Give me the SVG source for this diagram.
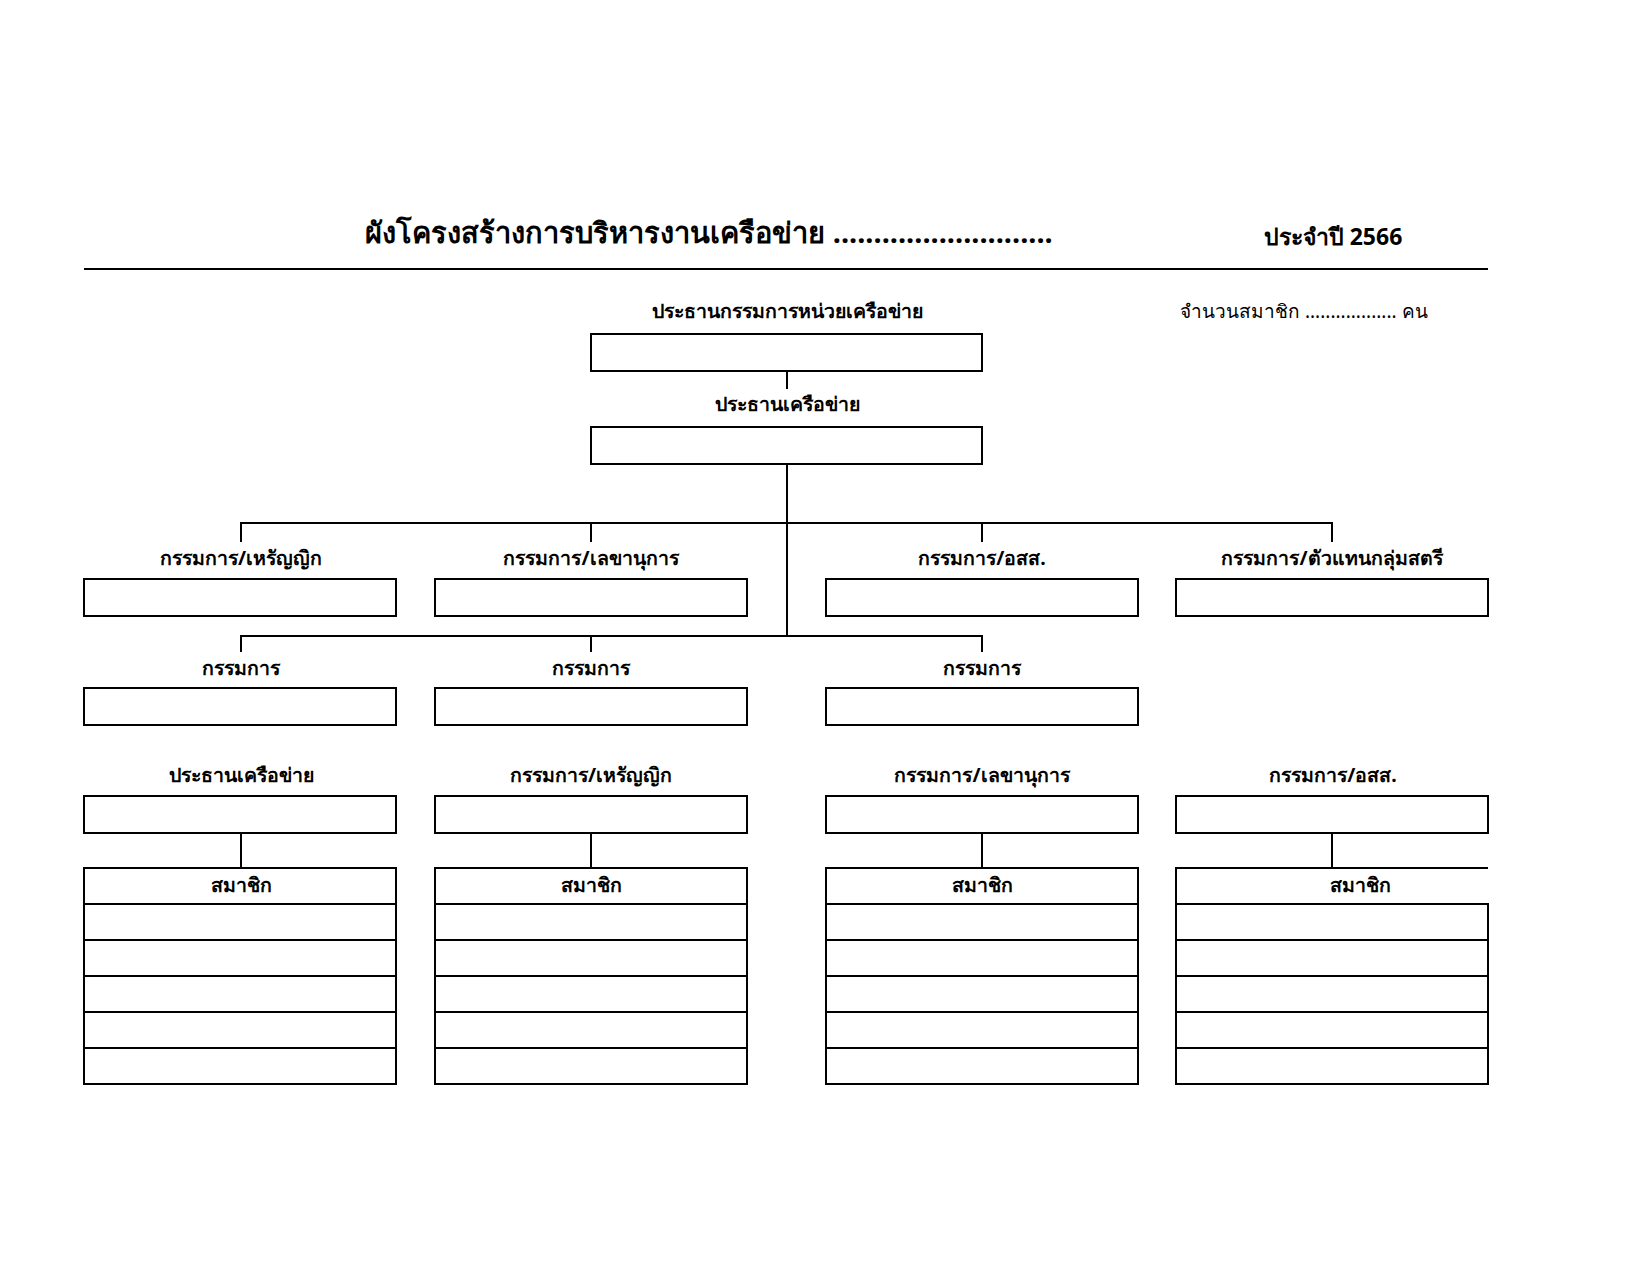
<svg xmlns="http://www.w3.org/2000/svg" width="1650" height="1275" viewBox="0 0 1650 1275">
<style>
.bx{fill:#fff;stroke:#000;stroke-width:2}
.ln{fill:none;stroke:#000;stroke-width:2}
text{font-family:"Noto Sans","DejaVu Sans",sans-serif;fill:#000}
.t{font-size:29px;font-weight:bold;text-anchor:middle}
.y{font-size:23px;font-weight:bold;text-anchor:middle}
.l{font-size:19.5px;font-weight:bold;text-anchor:middle}
.n{font-size:19px}
</style>
<rect width="1650" height="1275" fill="#fff"/>
<g id="header">
<text class="t" x="709" y="243">ผังโครงสร้างการบริหารงานเครือข่าย ...........................</text>
<text class="y" x="1333" y="245">ประจำปี 2566</text>
<line class="ln" x1="84" y1="269" x2="1488" y2="269"/>
<text class="n" x="1180" y="318">จำนวนสมาชิก .................. คน</text>
</g>
<g id="connectors">
<line class="ln" x1="787" y1="371" x2="787" y2="389"/>
<path class="ln" d="M787 464V636M241 542V523H1332V542M591 523V542M982 523V542M241 652V636H982V652M591 636V652"/>
<path class="ln" d="M241 832V868M591 832V868M982 832V868M1332 832V868"/>
</g>
<g id="n-chair-unit"><text class="l" x="787" y="318">ประธานกรรมการหน่วยเครือข่าย</text><rect class="bx" x="591" y="334" width="391" height="37"/></g>
<g id="n-chair"><text class="l" x="787" y="411">ประธานเครือข่าย</text><rect class="bx" x="591" y="427" width="391" height="37"/></g>
<g id="n-treasurer"><text class="l" x="241" y="565">กรรมการ/เหรัญญิก</text><rect class="bx" x="84" y="579" width="312" height="37"/></g>
<g id="n-secretary"><text class="l" x="591" y="565">กรรมการ/เลขานุการ</text><rect class="bx" x="435" y="579" width="312" height="37"/></g>
<g id="n-oss"><text class="l" x="982" y="565">กรรมการ/อสส.</text><rect class="bx" x="826" y="579" width="312" height="37"/></g>
<g id="n-women"><text class="l" x="1332" y="565">กรรมการ/ตัวแทนกลุ่มสตรี</text><rect class="bx" x="1176" y="579" width="312" height="37"/></g>
<g id="n-c1"><text class="l" x="241" y="675">กรรมการ</text><rect class="bx" x="84" y="688" width="312" height="37"/></g>
<g id="n-c2"><text class="l" x="591" y="675">กรรมการ</text><rect class="bx" x="435" y="688" width="312" height="37"/></g>
<g id="n-c3"><text class="l" x="982" y="675">กรรมการ</text><rect class="bx" x="826" y="688" width="312" height="37"/></g>
<g id="n-g1"><text class="l" x="241" y="782">ประธานเครือข่าย</text><rect class="bx" x="84" y="796" width="312" height="37"/></g>
<g id="n-g2"><text class="l" x="591" y="782">กรรมการ/เหรัญญิก</text><rect class="bx" x="435" y="796" width="312" height="37"/></g>
<g id="n-g3"><text class="l" x="982" y="782">กรรมการ/เลขานุการ</text><rect class="bx" x="826" y="796" width="312" height="37"/></g>
<g id="n-g4"><text class="l" x="1333" y="782">กรรมการ/อสส.</text><rect class="bx" x="1176" y="796" width="312" height="37"/></g>
<g id="m1"><rect class="bx" x="84" y="868" width="312" height="216"/><path class="ln" d="M84 904H396M84 940H396M84 976H396M84 1012H396M84 1048H396"/><text class="l" x="241" y="892">สมาชิก</text></g>
<g id="m2"><rect class="bx" x="435" y="868" width="312" height="216"/><path class="ln" d="M435 904H747M435 940H747M435 976H747M435 1012H747M435 1048H747"/><text class="l" x="591" y="892">สมาชิก</text></g>
<g id="m3"><rect class="bx" x="826" y="868" width="312" height="216"/><path class="ln" d="M826 904H1138M826 940H1138M826 976H1138M826 1012H1138M826 1048H1138"/><text class="l" x="982" y="892">สมาชิก</text></g>
<g id="m4"><path class="ln" d="M1488 868H1176V1084H1488V904H1176M1176 940H1488M1176 976H1488M1176 1012H1488M1176 1048H1488"/><text class="l" x="1360" y="892">สมาชิก</text></g>
</svg>
